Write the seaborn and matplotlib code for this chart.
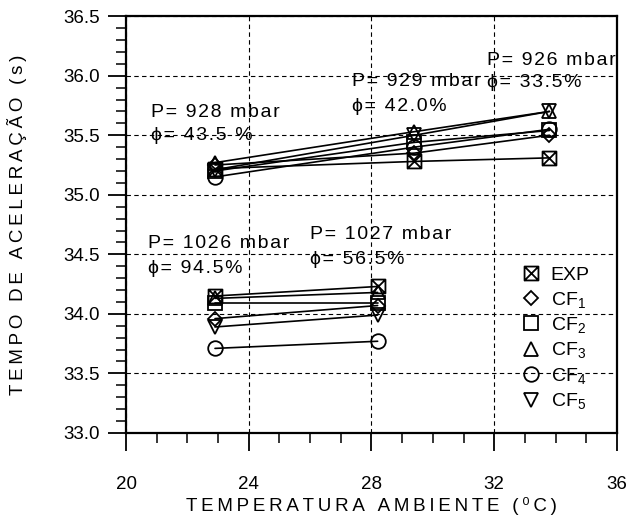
import numpy as np
import pandas as pd
import seaborn as sns
import matplotlib.pyplot as plt
from matplotlib.path import Path
from matplotlib.lines import Line2D
from matplotlib.ticker import MultipleLocator, FormatStrFormatter

series = ["EXP", "CF1", "CF2", "CF3", "CF4", "CF5"]
legend_labels = ["EXP", "CF$_1$", "CF$_2$", "CF$_3$", "CF$_4$", "CF$_5$"]

# upper group (approx. 926-929 mbar)
temp_high = [22.9, 29.4, 33.8]
high_exp = [35.22, 35.28, 35.31]
high_cf1 = [35.25, 35.35, 35.50]
high_cf2 = [35.20, 35.44, 35.54]
high_cf3 = [35.27, 35.53, 35.70]
high_cf4 = [35.15, 35.40, 35.55]
high_cf5 = [35.21, 35.50, 35.70]

# lower group (approx. 1026-1027 mbar)
temp_low = [22.9, 28.2]
low_exp = [34.15, 34.23]
low_cf1 = [33.96, 34.07]
low_cf2 = [34.09, 34.09]
low_cf3 = [34.13, 34.18]
low_cf4 = [33.71, 33.77]
low_cf5 = [33.89, 33.99]

annotations = [
    ("P= 928 mbar", "ϕ= 43.5 %", 20.8, 35.69, 35.50),
    ("P= 929 mbar", "ϕ= 42.0%", 27.35, 35.95, 35.74),
    ("P= 926 mbar", "ϕ= 33.5%", 31.75, 36.13, 35.94),
    ("P= 1026 mbar", "ϕ= 94.5%", 20.7, 34.59, 34.38),
    ("P= 1027 mbar", "ϕ= 56.5%", 26.0, 34.67, 34.46),
]

HAIR = "\u200a"
THIN = "\u2009"


def spaced(s, sp):
    # the original uses wide letter spacing
    return sp.join(s)


rows = []
for name, vals in zip(series, [high_exp, high_cf1, high_cf2, high_cf3, high_cf4, high_cf5]):
    for t, v in zip(temp_high, vals):
        rows.append([t, v, name, name + "_high"])
for name, vals in zip(series, [low_exp, low_cf1, low_cf2, low_cf3, low_cf4, low_cf5]):
    for t, v in zip(temp_low, vals):
        rows.append([t, v, name, name + "_low"])
df = pd.DataFrame(rows, columns=["temp", "tempo", "serie", "grupo"])

# boxed X marker for EXP
boxx = Path([(-1, -1), (1, -1), (1, 1), (-1, 1), (-1, -1), (1, 1), (-1, 1), (1, -1)],
            [Path.MOVETO, Path.LINETO, Path.LINETO, Path.LINETO, Path.LINETO,
             Path.LINETO, Path.MOVETO, Path.LINETO])
markers = {"EXP": boxx, "CF1": "D", "CF2": "s", "CF3": "^", "CF4": "o", "CF5": "v"}
msizes = {"EXP": 10, "CF1": 7.5, "CF2": 10, "CF3": 10, "CF4": 10.5, "CF5": 10}

sns.set_theme(style="white")
plt.rcParams["font.family"] = ["Liberation Sans", "DejaVu Sans"]
plt.rcParams["mathtext.fontset"] = "custom"
plt.rcParams["mathtext.rm"] = "Liberation Sans"
plt.rcParams["mathtext.it"] = "Liberation Sans"
for k in ["text.color", "axes.labelcolor", "xtick.color", "ytick.color"]:
    plt.rcParams[k] = "black"

fig = plt.figure(figsize=(6.27, 5.21), dpi=100)
ax = fig.add_axes([0.201, 0.169, 0.783, 0.800])

for name in series:
    sub = df[df["serie"] == name]
    sns.lineplot(data=sub, x="temp", y="tempo", units="grupo", estimator=None,
                 color="black", lw=1.2, marker=markers[name], markersize=msizes[name],
                 markerfacecolor="none", markeredgecolor="black", markeredgewidth=1.3,
                 legend=False, ax=ax)

for p, phi, x, yp, yf in annotations:
    ax.text(x, yp, spaced(p, HAIR), fontsize=14, va="center", ha="left")
    ax.text(x, yf, spaced(phi, HAIR), fontsize=14, va="center", ha="left")

ax.set_xlim(20, 36)
ax.set_ylim(33.0, 36.5)
ax.xaxis.set_major_locator(MultipleLocator(4))
ax.xaxis.set_minor_locator(MultipleLocator(1))
ax.yaxis.set_major_locator(MultipleLocator(0.5))
ax.yaxis.set_minor_locator(MultipleLocator(0.1))
ax.yaxis.set_major_formatter(FormatStrFormatter("%.1f"))
ax.tick_params(which="major", direction="out", length=13, width=1.3, labelsize=13.5,
               bottom=True, left=True)
ax.tick_params(which="minor", direction="out", length=7, width=1.1,
               bottom=True, left=True)
ax.tick_params(axis="x", which="major", pad=18)
ax.tick_params(axis="y", which="major", pad=6)
ax.grid(True, which="major", color="black", linestyle=(0, (4, 3)), lw=0.8)
for s in ax.spines.values():
    s.set_color("black")
    s.set_linewidth(1.6)

ax.set_xlabel(spaced("TEMPERATURA AMBIENTE (⁰C)", THIN), fontsize=13.5, labelpad=3)
ax.set_ylabel(spaced("TEMPO DE ACELERAÇÃO (s)", THIN), fontsize=13.5, labelpad=26)

handles = [Line2D([], [], color="black", lw=0, marker=markers[n], markersize=msizes[n],
                  markerfacecolor="none", markeredgewidth=1.3) for n in series]
ax.legend(handles, legend_labels, loc="upper left", bbox_to_anchor=(0.79, 0.418),
          frameon=False, fontsize=14, handlelength=1.0, handletextpad=0.5,
          labelspacing=0.28, borderaxespad=0)

fig.savefig("out.png", dpi=100)
